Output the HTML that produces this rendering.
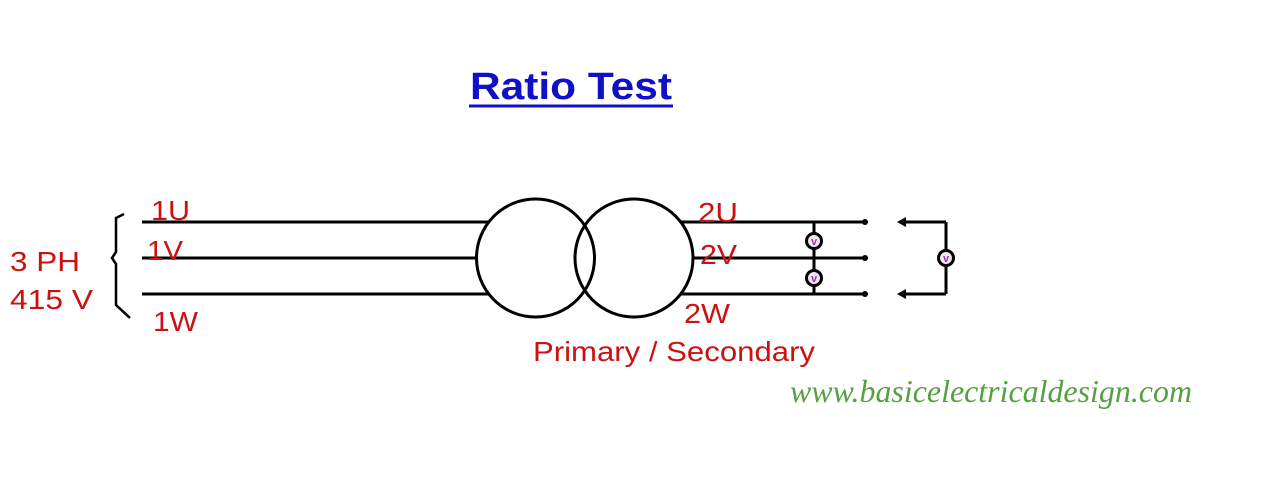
<!DOCTYPE html>
<html><head><meta charset="utf-8"><style>
html,body{margin:0;padding:0;background:#fff;}
svg{display:block;}
</style></head><body>
<svg width="1279" height="480" viewBox="0 0 1279 480" xmlns="http://www.w3.org/2000/svg">
<rect width="1279" height="480" fill="#fff"/>
<text x="470" y="99" font-family="Liberation Sans, sans-serif" font-weight="bold" font-size="38" fill="#1010c8" textLength="202" lengthAdjust="spacingAndGlyphs">Ratio Test</text>
<line x1="469" y1="106" x2="673" y2="106" stroke="#1010c8" stroke-width="3"/>
<g stroke="#000" stroke-width="3" fill="none">
<line x1="142" y1="222" x2="488" y2="222"/>
<line x1="142" y1="258" x2="476" y2="258"/>
<line x1="142" y1="294" x2="488" y2="294"/>
<circle cx="535.5" cy="258" r="59"/>
<circle cx="634" cy="258" r="59"/>
<line x1="681" y1="222" x2="865" y2="222"/>
<line x1="693" y1="258" x2="865" y2="258"/>
<line x1="681" y1="294" x2="865" y2="294"/>
<line x1="814" y1="222" x2="814" y2="294"/>
<line x1="902" y1="222" x2="946" y2="222"/>
<line x1="902" y1="294" x2="946" y2="294"/>
<line x1="946" y1="222" x2="946" y2="294"/>
<path d="M124 214 L116 218 L116 252 L112 258 L116 264 L116 305 L130 318" stroke-width="2.5"/>
</g>
<g fill="#000">
<circle cx="865" cy="222" r="3"/><circle cx="865" cy="258" r="3"/><circle cx="865" cy="294" r="3"/>
<path d="M897 222 L906 217 L906 227 Z"/>
<path d="M897 294 L906 289 L906 299 Z"/>
</g>
<g stroke="#000" stroke-width="3" fill="#f4e4f4">
<circle cx="814" cy="241" r="7.5"/><circle cx="814" cy="278" r="7.5"/><circle cx="946" cy="258" r="7.5"/>
</g>
<g font-family="Liberation Sans, sans-serif" font-size="11" font-weight="bold" fill="#a030c0" text-anchor="middle">
<text x="814" y="245">v</text><text x="814" y="282">v</text><text x="946" y="262">v</text>
</g>
<g font-family="Liberation Sans, sans-serif" font-size="28" fill="#cc1111" lengthAdjust="spacingAndGlyphs">
<text x="10" y="271" textLength="70" lengthAdjust="spacingAndGlyphs">3 PH</text>
<text x="10" y="309" textLength="83" lengthAdjust="spacingAndGlyphs">415 V</text>
<text x="151" y="220" textLength="39" lengthAdjust="spacingAndGlyphs">1U</text>
<text x="147" y="260" textLength="36" lengthAdjust="spacingAndGlyphs">1V</text>
<text x="153" y="331" textLength="45" lengthAdjust="spacingAndGlyphs">1W</text>
<text x="698" y="222" textLength="40" lengthAdjust="spacingAndGlyphs">2U</text>
<text x="700" y="264" textLength="37" lengthAdjust="spacingAndGlyphs">2V</text>
<text x="684" y="323" textLength="46" lengthAdjust="spacingAndGlyphs">2W</text>
<text x="533" y="361" textLength="282" lengthAdjust="spacingAndGlyphs">Primary / Secondary</text>
</g>
<text x="790" y="402" font-family="Liberation Serif, serif" font-style="italic" font-size="32" fill="#55a040" textLength="402" lengthAdjust="spacingAndGlyphs">www.basicelectricaldesign.com</text>
</svg>
</body></html>
